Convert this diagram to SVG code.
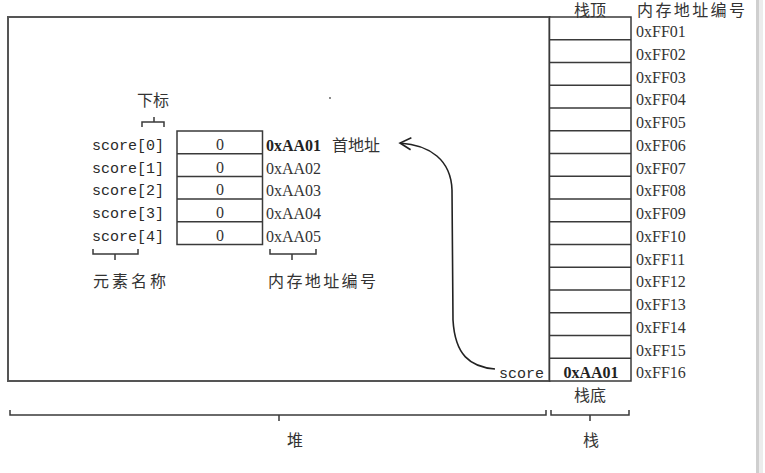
<svg xmlns="http://www.w3.org/2000/svg" width="765" height="473" viewBox="0 0 765 473">
<style>
.ln{fill:none;stroke:#3a3a3a;stroke-width:1.5}
.box{fill:#fff;stroke:#3a3a3a;stroke-width:1.5}
.mono{font-family:"Liberation Mono",monospace;font-size:15px;fill:#2a2a2a}
.ser{font-family:"Liberation Serif",serif;font-size:16px;fill:#333}
.bold{font-weight:bold;fill:#222}
.cjk{font-family:"Noto Sans CJK SC",sans-serif;font-size:16px;fill:#333}
</style>
<defs>
<marker id="ah" viewBox="0 0 14 14" refX="12" refY="7" markerWidth="14" markerHeight="14" markerUnits="userSpaceOnUse" orient="auto">
<path d="M1,1 L12,7 L1,13" fill="none" stroke="#222" stroke-width="1.6"/>
</marker>
</defs>
<rect x="0" y="0" width="765" height="473" fill="#fff"/>
<rect x="756" y="0" width="3" height="473" fill="#cfcfcf"/>
<rect x="759" y="0" width="4" height="473" fill="#ececec"/>

<g id="heap">
<rect x="8" y="17" width="541.5" height="364" fill="none" stroke="#555" stroke-width="2"/>
<circle cx="330" cy="98" r="0.9" fill="#555"/>
</g>

<g id="stack">
<rect class="box" x="549.5" y="17" width="81.5" height="364"/>
<path class="ln" d="M549.5,39.75H631M549.5,62.5H631M549.5,85.25H631M549.5,108H631M549.5,130.75H631M549.5,153.5H631M549.5,176.25H631M549.5,199H631M549.5,221.75H631M549.5,244.5H631M549.5,267.25H631M549.5,290H631M549.5,312.75H631M549.5,335.5H631M549.5,358.25H631"/>
<text class="ser bold" x="591" y="378" text-anchor="middle">0xAA01</text>
<text class="cjk" x="574" y="15.5" font-size="16">栈顶</text>
<text class="cjk" x="574" y="401" font-size="17">栈底</text>
</g>

<g id="stack-addresses">
<text class="cjk" x="637" y="15.5" font-size="16" textLength="108" lengthAdjust="spacing">内存地址编号</text>
<text class="ser" x="636" y="37">0xFF01</text>
<text class="ser" x="636" y="59.75">0xFF02</text>
<text class="ser" x="636" y="82.5">0xFF03</text>
<text class="ser" x="636" y="105.25">0xFF04</text>
<text class="ser" x="636" y="128">0xFF05</text>
<text class="ser" x="636" y="150.75">0xFF06</text>
<text class="ser" x="636" y="173.5">0xFF07</text>
<text class="ser" x="636" y="196.25">0xFF08</text>
<text class="ser" x="636" y="219">0xFF09</text>
<text class="ser" x="636" y="241.75">0xFF10</text>
<text class="ser" x="636" y="264.5">0xFF11</text>
<text class="ser" x="636" y="287.25">0xFF12</text>
<text class="ser" x="636" y="310">0xFF13</text>
<text class="ser" x="636" y="332.75">0xFF14</text>
<text class="ser" x="636" y="355.5">0xFF15</text>
<text class="ser" x="636" y="378.25">0xFF16</text>
</g>

<g id="array">
<rect class="box" x="177" y="131" width="85.5" height="113.5"/>
<path class="ln" d="M177,153.7H262.5M177,176.4H262.5M177,199.1H262.5M177,221.8H262.5"/>
<text class="ser" x="220" y="150" text-anchor="middle">0</text>
<text class="ser" x="220" y="172.7" text-anchor="middle">0</text>
<text class="ser" x="220" y="195.4" text-anchor="middle">0</text>
<text class="ser" x="220" y="218.1" text-anchor="middle">0</text>
<text class="ser" x="220" y="240.8" text-anchor="middle">0</text>
</g>

<g id="element-names">
<text class="mono" x="92" y="150">score[0]</text>
<text class="mono" x="92" y="172.7">score[1]</text>
<text class="mono" x="92" y="195.4">score[2]</text>
<text class="mono" x="92" y="218.1">score[3]</text>
<text class="mono" x="92" y="240.8">score[4]</text>
<text class="cjk" x="137" y="106" font-size="15">下标</text>
<text class="cjk" x="93" y="287" textLength="73" lengthAdjust="spacing">元素名称</text>
</g>

<g id="array-addresses">
<text class="ser bold" x="266" y="151">0xAA01</text>
<text class="cjk" x="332" y="151" font-size="17">首地址</text>
<text class="ser" x="266" y="173.7">0xAA02</text>
<text class="ser" x="266" y="196.4">0xAA03</text>
<text class="ser" x="266" y="219.1">0xAA04</text>
<text class="ser" x="266" y="241.8">0xAA05</text>
<text class="cjk" x="268" y="287" textLength="108" lengthAdjust="spacing">内存地址编号</text>
</g>

<g id="pointer">
<text class="mono" x="499" y="378" font-size="14.5">score</text>
</g>

<g id="braces">
<path class="ln" d="M142,127V122H164V127M154,122V117"/>
<path class="ln" d="M93,249V254H138V249M115,254V260"/>
<path class="ln" d="M270,249V254H316V249M292,254V260"/>
<path class="ln" d="M10,410V415H546V410M279,415V421"/>
<path class="ln" d="M551,410V415H629V410M590,415V421"/>
<text class="cjk" x="287" y="446">堆</text>
<text class="cjk" x="583" y="446">栈</text>
</g>

<g id="connectors">
<path d="M495,369 C470,367 455,355 453,320 L452,190 C451,160 430,145 400,143" fill="none" stroke="#222" stroke-width="1.6" marker-end="url(#ah)"/>
</g>
</svg>
